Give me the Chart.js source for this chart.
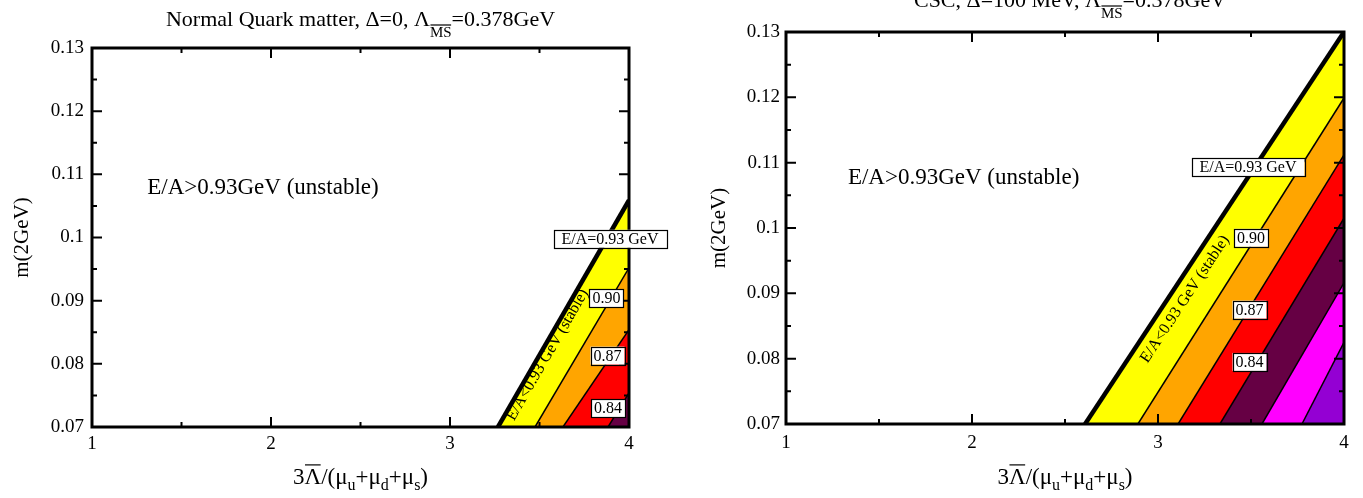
<!DOCTYPE html>
<html><head><meta charset="utf-8">
<script src="https://cdn.jsdelivr.net/npm/chart.js@4/dist/chart.umd.min.js"></script>
<style>
html,body{margin:0;padding:0;background:#fff;width:1363px;height:498px;overflow:hidden}
#l{position:absolute;left:0;top:0;width:690px;height:498px}
#r{position:absolute;left:690px;top:0;width:673px;height:498px}
</style></head><body>
<div id="l"><canvas id="cl"></canvas></div>
<div id="r"><canvas id="cr"></canvas></div>
<script>
// ---- axis ranges / ticks ----
const X_MIN = 1, X_MAX = 4, Y_MIN = 0.07, Y_MAX = 0.13;
const xTickLabels = ['1','2','3','4'];
const yTickLabels = ['0.07','0.08','0.09','0.1','0.11','0.12','0.13'];

// ---- left panel: E/A contours (x where contour meets m=0.07, m where it meets x=4) ----
const leftLevels = ['0.93','0.90','0.87','0.84'];
const leftX0 = [3.268, 3.475, 3.631, 3.883];
const leftY1 = [0.1059, 0.0952, 0.0854, 0.0754];

// ---- right panel ----
const rightLevels = ['0.93','0.90','0.87','0.84','0.81','0.78'];
const rightX0 = [2.608, 2.892, 3.108, 3.333, 3.559, 3.774];
const rightY1 = [0.1300, 0.1199, 0.1112, 0.1015, 0.0916, 0.0825];

// ---- contour label boxes ----
const leftBoxText = ['E/A=0.93 GeV','0.90','0.87','0.84'];
const leftBoxX = [3.894, 3.874, 3.880, 3.883];
const leftBoxY = [0.0998, 0.0904, 0.0813, 0.0730];
const rightBoxText = ['E/A=0.93 GeV','0.90','0.87','0.84'];
const rightBoxX = [3.484, 3.500, 3.492, 3.492];
const rightBoxY = [0.1093, 0.0985, 0.0875, 0.0795];

// ---- region texts ----
const unstableText = 'E/A>0.93GeV (unstable)';
const stableText = 'E/A<0.93 GeV (stable)';
const leftUnstableXY = [1.955, 0.1069];
const rightUnstableXY = [1.955, 0.1067];
const leftStableXY = [3.545, 0.0814];
const rightStableXY = [3.145, 0.0891];

const bandColors = ['#ffff00','#ffa500','#ff0000','#660044','#ff00ff','#9400d3'];
const FAM = '"Liberation Serif","Times New Roman",serif';

function richText(ctx, segs, cx, baseline) {
  let w = 0;
  segs.forEach(s => { ctx.font = s.size + 'px ' + FAM; s.w = ctx.measureText(s.t).width; w += s.w; });
  let x = cx - w / 2;
  ctx.textAlign = 'left'; ctx.textBaseline = 'alphabetic';
  segs.forEach(s => {
    ctx.font = s.size + 'px ' + FAM;
    const yb = baseline + (s.dy || 0);
    ctx.fillText(s.t, x, yb);
    if (s.over) {
      const yo = yb - s.size * 0.70 - (s.gap || 2);
      ctx.lineWidth = 1.2; ctx.beginPath(); ctx.moveTo(x + 0.5, yo); ctx.lineTo(x + s.w - 0.5, yo); ctx.stroke();
    }
    x += s.w;
  });
}

function makeChart(id, cfg) {
  const datasets = cfg.levels.map((lv, i) => ({
    label: 'E/A=' + lv,
    data: [{x: cfg.x0[i], y: Y_MIN}, {x: X_MAX, y: cfg.y1[i]}],
    showLine: true, pointRadius: 0, borderColor: '#000',
    borderWidth: i === 0 ? 4.5 : 1.5,
    backgroundColor: bandColors[i], fill: 'start',
    order: cfg.levels.length - i
  }));
  const deco = {
    id: 'deco',
    afterDatasetsDraw(chart) {
      const {ctx, chartArea: a, scales: {x, y}} = chart;
      ctx.save();
      ctx.strokeStyle = '#000'; ctx.lineWidth = 2;
      ctx.beginPath();
      for (let i = 0; i <= 6; i++) {
        const v = X_MIN + i * 0.5, px = x.getPixelForValue(v), L = i % 2 === 0 ? 10 : 5;
        ctx.moveTo(px, a.bottom); ctx.lineTo(px, a.bottom - L);
        ctx.moveTo(px, a.top); ctx.lineTo(px, a.top + L);
      }
      for (let i = 0; i <= 12; i++) {
        const v = Y_MIN + i * 0.005, py = y.getPixelForValue(v), L = i % 2 === 0 ? 10 : 5;
        ctx.moveTo(a.left, py); ctx.lineTo(a.left + L, py);
        ctx.moveTo(a.right, py); ctx.lineTo(a.right - L, py);
      }
      ctx.stroke();
      ctx.lineWidth = 3;
      ctx.strokeRect(a.left, a.top, a.right - a.left, a.bottom - a.top);
      ctx.restore();
    },
    afterDraw(chart) {
      const {ctx, chartArea: a, scales: {x, y}} = chart;
      ctx.save();
      ctx.fillStyle = '#000'; ctx.strokeStyle = '#000';
      // title
      richText(ctx, cfg.titleSegs, (a.left + a.right) / 2 + cfg.titleDx, a.top - cfg.titleUp);
      // x axis title
      richText(ctx, [
        {t: '3', size: 23}, {t: 'Λ', size: 23, over: true, gap: 3}, {t: '/(μ', size: 23},
        {t: 'u', size: 16, dy: 6}, {t: '+μ', size: 23}, {t: 'd', size: 16, dy: 6},
        {t: '+μ', size: 23}, {t: 's', size: 16, dy: 6}, {t: ')', size: 23}
      ], (a.left + a.right) / 2, a.bottom + cfg.xTitleDown);
      // unstable text
      ctx.font = '23px ' + FAM; ctx.textAlign = 'center'; ctx.textBaseline = 'alphabetic';
      ctx.fillText(unstableText, x.getPixelForValue(cfg.unstable[0]), y.getPixelForValue(cfg.unstable[1]));
      // stable rotated text along the 0.93 line
      const p0x = x.getPixelForValue(cfg.x0[0]), p0y = y.getPixelForValue(Y_MIN);
      const p1x = x.getPixelForValue(X_MAX), p1y = y.getPixelForValue(cfg.y1[0]);
      const ang = Math.atan2(p1y - p0y, p1x - p0x);
      ctx.save();
      ctx.translate(x.getPixelForValue(cfg.stable[0]), y.getPixelForValue(cfg.stable[1]));
      ctx.rotate(ang);
      ctx.font = '16px ' + FAM; ctx.textBaseline = 'middle';
      ctx.fillText(stableText, 0, 0);
      ctx.restore();
      // label boxes
      ctx.font = '16px ' + FAM; ctx.textAlign = 'center'; ctx.textBaseline = 'middle';
      cfg.boxText.forEach((t, i) => {
        const cx = x.getPixelForValue(cfg.boxX[i]), cy = y.getPixelForValue(cfg.boxY[i]);
        const w = ctx.measureText(t).width + (t.length > 5 ? 16 : 6), h = 18;
        ctx.fillStyle = '#fff'; ctx.fillRect(cx - w / 2, cy - h / 2, w, h);
        ctx.lineWidth = 1.2; ctx.strokeRect(Math.round(cx - w / 2) + 0.5, Math.round(cy - h / 2) + 0.5, Math.round(w), h);
        ctx.fillStyle = '#000'; ctx.fillText(t, cx, cy + 1);
      });
      ctx.restore();
    }
  };
  return new Chart(document.getElementById(id), {
    type: 'scatter',
    data: {datasets},
    options: {
      responsive: true, maintainAspectRatio: false, animation: false,
      layout: {padding: cfg.pad},
      plugins: {legend: {display: false}, tooltip: {enabled: false}, title: {display: false}},
      scales: {
        x: {
          type: 'linear', min: X_MIN, max: X_MAX,
          grid: {display: false, drawTicks: false}, border: {display: false},
          ticks: {stepSize: 1, color: '#000', font: {family: FAM, size: 19}, padding: cfg.xTickPad, maxRotation: 0,
            callback: v => xTickLabels[Math.round(v - X_MIN)]},
          afterFit: s => { s.height = 60; }
        },
        y: {
          type: 'linear', min: Y_MIN, max: Y_MAX,
          grid: {display: false, drawTicks: false}, border: {display: false},
          ticks: {stepSize: 0.01, color: '#000', font: {family: FAM, size: 19}, padding: cfg.yTickPad,
            callback: v => yTickLabels[Math.round((v - Y_MIN) / 0.01)]},
          title: {display: true, text: 'm(2GeV)', color: '#000', font: {family: FAM, size: 21}, padding: {top: cfg.yTitlePad, bottom: 0}},
          afterFit: s => { s.width = cfg.yWidth; }
        }
      }
    },
    plugins: [deco]
  });
}

makeChart('cl', {
  levels: leftLevels, x0: leftX0, y1: leftY1,
  boxText: leftBoxText, boxX: leftBoxX, boxY: leftBoxY,
  unstable: leftUnstableXY, stable: leftStableXY,
  pad: {left: 0, top: 48, right: 61, bottom: 11}, yWidth: 92,
  xTickPad: 6, yTickPad: 8, yTitlePad: 10, titleDx: 0, titleUp: 22, xTitleDown: 57,
  titleSegs: [{t: 'Normal Quark matter, Δ=0, Λ', size: 22}, {t: 'MS', size: 15, dy: 11, over: true, gap: 1.5}, {t: '=0.378GeV', size: 22}]
});
makeChart('cr', {
  levels: rightLevels, x0: rightX0, y1: rightY1,
  boxText: rightBoxText, boxX: rightBoxX, boxY: rightBoxY,
  unstable: rightUnstableXY, stable: rightStableXY,
  pad: {left: 0, top: 32, right: 19, bottom: 14}, yWidth: 96,
  xTickPad: 8, yTickPad: 6, yTitlePad: 17, titleDx: 5, titleUp: 25, xTitleDown: 60,
  titleSegs: [{t: 'CSC, Δ=100 MeV, Λ', size: 22}, {t: 'MS', size: 15, dy: 11, over: true, gap: 1.5}, {t: '=0.378GeV', size: 22}]
});
</script>
</body></html>
